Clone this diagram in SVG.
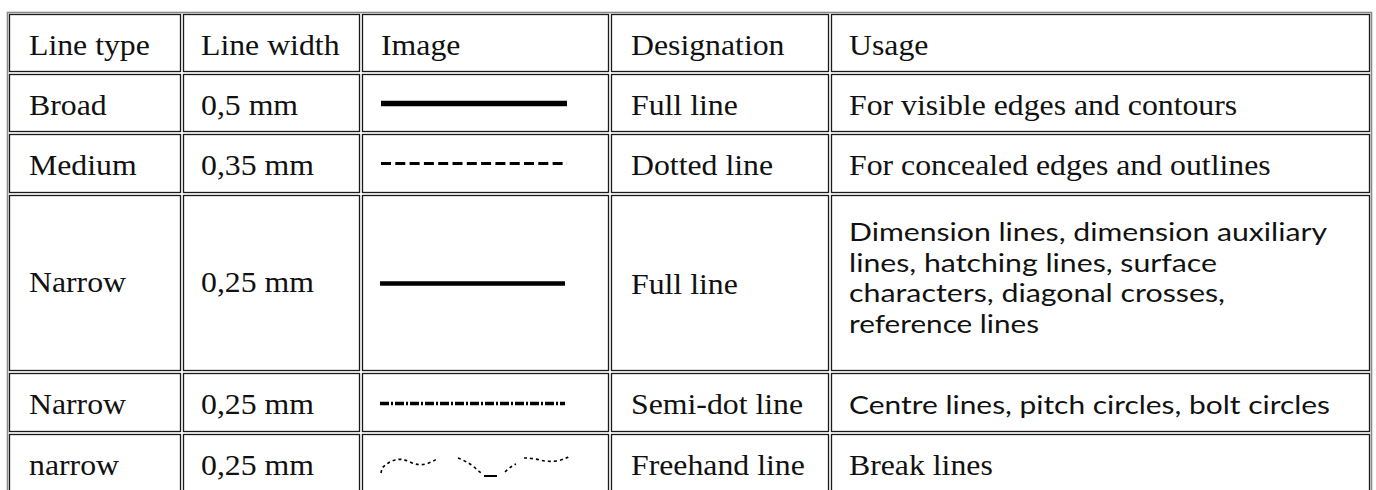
<svg xmlns="http://www.w3.org/2000/svg" width="1376" height="490" viewBox="0 0 1376 490">
<style>
.bg{fill:#fff}
.cell{fill:none;stroke:#1a1a1a;stroke-width:1.3}
.outer{fill:none;stroke:#8a8a8a;stroke-width:1.6}
.t{font-family:"Liberation Serif","Times New Roman",serif;font-size:28.5px;fill:#111}
.s{font-family:Lato,"Open Sans","Liberation Sans",sans-serif;font-size:25px;fill:#111}
.ln{stroke:#000;fill:none}
</style>
<rect class="bg" x="0" y="0" width="1376" height="490"/>
<rect class="outer" x="7.5" y="12.5" width="1364" height="490"/>

<g id="row-header">
  <rect class="cell" x="9.5" y="14.5" width="171" height="57"/>
  <rect class="cell" x="183.5" y="14.5" width="176" height="57"/>
  <rect class="cell" x="362.5" y="14.5" width="246" height="57"/>
  <rect class="cell" x="611.5" y="14.5" width="217" height="57"/>
  <rect class="cell" x="831.5" y="14.5" width="538" height="57"/>
  <text class="t" transform="translate(29 55) scale(1.115 1)">Line type</text>
  <text class="t" transform="translate(201 55) scale(1.115 1)">Line width</text>
  <text class="t" transform="translate(381 55) scale(1.115 1)">Image</text>
  <text class="t" transform="translate(631 55) scale(1.115 1)">Designation</text>
  <text class="t" transform="translate(849 55) scale(1.115 1)">Usage</text>
</g>

<g id="row-broad">
  <rect class="cell" x="9.5" y="74.5" width="171" height="57"/>
  <rect class="cell" x="183.5" y="74.5" width="176" height="57"/>
  <rect class="cell" x="362.5" y="74.5" width="246" height="57"/>
  <rect class="cell" x="611.5" y="74.5" width="217" height="57"/>
  <rect class="cell" x="831.5" y="74.5" width="538" height="57"/>
  <text class="t" transform="translate(29 115) scale(1.115 1)">Broad</text>
  <text class="t" transform="translate(201 115) scale(1.115 1)">0,5 mm</text>
  <line class="ln" x1="381" y1="103.5" x2="567" y2="103.5" stroke-width="5.5"/>
  <text class="t" transform="translate(631 115) scale(1.115 1)">Full line</text>
  <text class="t" transform="translate(849 115) scale(1.115 1)">For visible edges and contours</text>
</g>

<g id="row-medium">
  <rect class="cell" x="9.5" y="134.5" width="171" height="58"/>
  <rect class="cell" x="183.5" y="134.5" width="176" height="58"/>
  <rect class="cell" x="362.5" y="134.5" width="246" height="58"/>
  <rect class="cell" x="611.5" y="134.5" width="217" height="58"/>
  <rect class="cell" x="831.5" y="134.5" width="538" height="58"/>
  <text class="t" transform="translate(29 175) scale(1.115 1)">Medium</text>
  <text class="t" transform="translate(201 175) scale(1.115 1)">0,35 mm</text>
  <line class="ln" x1="381" y1="163.5" x2="567" y2="163.5" stroke-width="3.2" stroke-dasharray="10 4.3"/>
  <text class="t" transform="translate(631 175) scale(1.115 1)">Dotted line</text>
  <text class="t" transform="translate(849 175) scale(1.115 1)">For concealed edges and outlines</text>
</g>

<g id="row-narrow-full">
  <rect class="cell" x="9.5" y="195.5" width="171" height="175"/>
  <rect class="cell" x="183.5" y="195.5" width="176" height="175"/>
  <rect class="cell" x="362.5" y="195.5" width="246" height="175"/>
  <rect class="cell" x="611.5" y="195.5" width="217" height="175"/>
  <rect class="cell" x="831.5" y="195.5" width="538" height="175"/>
  <text class="t" transform="translate(29 292) scale(1.115 1)">Narrow</text>
  <text class="t" transform="translate(201 292) scale(1.115 1)">0,25 mm</text>
  <line class="ln" x1="380" y1="283.5" x2="565" y2="283.5" stroke-width="4.5"/>
  <text class="t" transform="translate(631 294) scale(1.115 1)">Full line</text>
  <text class="s" x="849" y="241" textLength="478" lengthAdjust="spacingAndGlyphs">Dimension lines, dimension auxiliary</text>
  <text class="s" x="849" y="272" textLength="368" lengthAdjust="spacingAndGlyphs">lines, hatching lines, surface</text>
  <text class="s" x="849" y="302" textLength="376" lengthAdjust="spacingAndGlyphs">characters, diagonal crosses,</text>
  <text class="s" x="849" y="333" textLength="190" lengthAdjust="spacingAndGlyphs">reference lines</text>
</g>

<g id="row-narrow-semidot">
  <rect class="cell" x="9.5" y="373.5" width="171" height="58"/>
  <rect class="cell" x="183.5" y="373.5" width="176" height="58"/>
  <rect class="cell" x="362.5" y="373.5" width="246" height="58"/>
  <rect class="cell" x="611.5" y="373.5" width="217" height="58"/>
  <rect class="cell" x="831.5" y="373.5" width="538" height="58"/>
  <text class="t" transform="translate(29 414) scale(1.115 1)">Narrow</text>
  <text class="t" transform="translate(201 414) scale(1.115 1)">0,25 mm</text>
  <line class="ln" x1="380" y1="403.5" x2="565" y2="403.5" stroke-width="3.5" stroke-dasharray="9 2 2 2"/>
  <text class="t" transform="translate(631 414) scale(1.115 1)">Semi-dot line</text>
  <text class="s" x="849" y="414" textLength="481" lengthAdjust="spacingAndGlyphs">Centre lines, pitch circles, bolt circles</text>
</g>

<g id="row-narrow-freehand">
  <rect class="cell" x="9.5" y="434.5" width="171" height="60"/>
  <rect class="cell" x="183.5" y="434.5" width="176" height="60"/>
  <rect class="cell" x="362.5" y="434.5" width="246" height="60"/>
  <rect class="cell" x="611.5" y="434.5" width="217" height="60"/>
  <rect class="cell" x="831.5" y="434.5" width="538" height="60"/>
  <text class="t" transform="translate(29 475) scale(1.115 1)">narrow</text>
  <text class="t" transform="translate(201 475) scale(1.115 1)">0,25 mm</text>
  <path class="ln" stroke="#444" stroke-width="1.6" stroke-dasharray="3 3" d="M381 473 L382 468 Q388 462 395 460 Q402 458 410 462 Q418 466 426 464 Q432 462 437 459 M458 458 Q466 461 473 466 Q478 471 483 474"/>
  <line class="ln" x1="484" y1="476" x2="497" y2="476" stroke-width="2"/>
  <path class="ln" stroke="#444" stroke-width="1.6" stroke-dasharray="3 3" d="M505 472 Q510 467 516 464 M524 458 Q532 458 540 460 Q548 462 556 461 Q563 460 568 457 L569 454"/>
  <text class="t" transform="translate(631 475) scale(1.115 1)">Freehand line</text>
  <text class="t" transform="translate(849 475) scale(1.115 1)">Break lines</text>
</g>
</svg>
